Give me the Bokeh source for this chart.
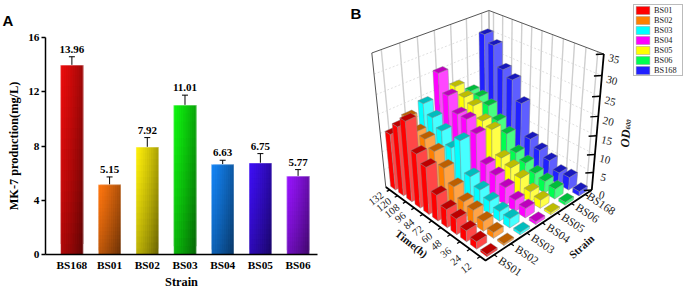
import numpy as np
from bokeh.core.properties import value
from bokeh.embed import file_html
from bokeh.layouts import column, row
from bokeh.models import (ColumnDataSource, FixedTicker, Label, Legend, LegendItem, Range1d,
                          TeeHead, Title, Whisker)
from bokeh.plotting import figure
from bokeh.resources import INLINE

# ---------- Panel A data ----------
strains_a = ["BS168", "BS01", "BS02", "BS03", "BS04", "BS05", "BS06"]
mk7 = [13.96, 5.15, 7.92, 11.01, 6.63, 6.75, 5.77]
mk7_err = [0.62, 0.57, 0.70, 0.74, 0.32, 0.69, 0.49]
bar_colors = [(235, 12, 12), (255, 118, 15), (255, 240, 10), (15, 245, 15),
              (20, 132, 245), (62, 15, 245), (152, 20, 255)]

# ---------- Panel B data ----------
times = [12, 24, 36, 48, 60, 72, 84, 96, 108, 120, 132]
strains_b = ["BS01", "BS02", "BS03", "BS04", "BS05", "BS06", "BS168"]
od_bs01 = [0.6, 2.0, 3.0, 4.3, 5.0, 7.1, 12.8, 14.7, 21.6, 18.8, 15.4]
od_bs02 = [0.5, 1.6, 2.7, 3.9, 4.4, 6.8, 10.2, 13.1, 14.9, 15.4, 17.8]
od_bs03 = [0.7, 2.5, 2.7, 3.7, 5.1, 7.1, 15.2, 11.8, 14.9, 17.1, 19.5]
od_bs04 = [0.8, 2.6, 3.1, 4.9, 6.6, 8.0, 14.8, 17.3, 17.3, 20.9, 25.6]
od_bs05 = [0.6, 2.3, 2.9, 5.0, 6.3, 7.5, 13.9, 14.8, 17.6, 18.6, 20.3]
od_bs06 = [0.8, 2.8, 3.3, 3.9, 5.3, 6.7, 10.6, 12.8, 15.7, 16.9, 17.2]
od_bs168 = [1.3, 3.6, 3.3, 5.2, 6.6, 8.3, 16.9, 22.0, 23.6, 28.9, 30.7]
od_all = [od_bs01, od_bs02, od_bs03, od_bs04, od_bs05, od_bs06, od_bs168]
colors_3d = [(255, 0, 0), (255, 128, 0), (0, 255, 255), (255, 0, 255),
             (255, 255, 0), (0, 255, 80), (32, 32, 255)]
z_ticks = [0, 5, 10, 15, 20, 25, 30, 35]
Z_MAX = 35

SERIF = "Liberation Serif"
SANS = "Liberation Sans"


def hexc(c):
    return "#%02x%02x%02x" % tuple(int(max(0, min(255, round(v)))) for v in c)


# ---------- Panel A ----------
p1 = figure(width=340, height=292, output_backend="svg", toolbar_location=None,
            x_range=Range1d(-0.7, 6.515), y_range=Range1d(0, 16),
            min_border_left=45, min_border_right=23, min_border_top=37, min_border_bottom=38,
            background_fill_color="white", border_fill_color="white")
p1.outline_line_color = None
p1.grid.visible = False

# gradient bars: each cell overlaps the next one, which is painted over it, so no seams show
NX, NY = 12, 18
ql, qr, qb, qt, qc = [], [], [], [], []
for k, (v, c) in enumerate(zip(mk7, bar_colors)):
    for a in range(NX):
        for b in range(NY):
            u = (a + 0.5) / NX
            w = (b + 0.5) / NY
            shade = 1.0 - 0.33 * u ** 1.2 - 0.26 * (1 - w) ** 1.3
            ql.append(k - 0.3 + 0.6 * a / NX)
            qr.append(k - 0.3 + 0.6 * min(a + 2, NX) / NX)
            qb.append(v * b / NY)
            qt.append(v * min(b + 2, NY) / NY)
            qc.append(hexc([x * shade for x in c]))
p1.quad(left=ql, right=qr, bottom=qb, top=qt, fill_color=qc, line_color=None)
xs = list(range(len(mk7)))
p1.quad(left=[i - 0.3 for i in xs], right=[i + 0.3 for i in xs], bottom=[0] * 7, top=mk7,
        fill_color=None, line_color="white", line_alpha=0.45, line_width=1)

src = ColumnDataSource(dict(
    x=xs, base=mk7, upper=[v + e for v, e in zip(mk7, mk7_err)],
    lower=[v - e for v, e in zip(mk7, mk7_err)], txt=["%.2f" % v for v in mk7]))
wh = Whisker(source=src, base="x", upper="upper", lower="lower", line_color="black", line_width=1,
             upper_head=TeeHead(size=6, line_color="black", line_width=1),
             lower_head=TeeHead(size=6, line_color="black", line_width=1))
p1.add_layout(wh)
p1.text(x="x", y="upper", text="txt", source=src, y_offset=-4, text_align="center",
        text_baseline="bottom", text_font=value(SERIF), text_font_style="bold",
        text_font_size="11px", text_color="black")

p1.xaxis.ticker = FixedTicker(ticks=xs)
p1.xaxis.major_label_overrides = {i: s for i, s in enumerate(strains_a)}
p1.yaxis.ticker = FixedTicker(ticks=[0, 4, 8, 12, 16])
for ax in (p1.xaxis, p1.yaxis):
    ax.axis_line_color = "black"
    ax.axis_line_width = 1.5
    ax.major_tick_line_color = "black"
    ax.major_tick_line_width = 1.5
    ax.minor_tick_line_color = None
    ax.major_label_text_font = SERIF
    ax.major_label_text_font_style = "bold"
    ax.major_label_text_font_size = "11.3px"
    ax.major_label_text_color = "black"
    ax.axis_label_text_font = SERIF
    ax.axis_label_text_font_style = "bold"
    ax.axis_label_text_color = "black"
    ax.axis_label_text_font_size = "12.3px"
p1.xaxis.major_tick_out = 0
p1.xaxis.major_tick_in = 0
p1.xaxis.major_label_standoff = 4
p1.xaxis.axis_label_standoff = 1
p1.xaxis.axis_label = "Strain"
p1.yaxis.major_tick_out = 4
p1.yaxis.major_tick_in = 0
p1.yaxis.major_label_standoff = 2
p1.yaxis.axis_label = "MK-7 production(mg/L)"
p1.yaxis.axis_label_standoff = 4
p1.title = Title(text="A", align="left", offset=-43, standoff=18, text_font=SANS,
                 text_font_style="bold", text_font_size="15px", text_color="black")

# ---------- Panel B: a projective camera fitted to the box corners, drawn in page pixels ----------
p2 = figure(width=345, height=292, output_backend="svg", toolbar_location=None,
            x_range=Range1d(340, 685), y_range=Range1d(292, 0), x_axis_location=None,
            y_axis_location=None, min_border=0, background_fill_color="white",
            border_fill_color="white")
p2.outline_line_color = None
p2.grid.visible = False

box = [((0, 0, 0), (485.7, 260)), ((1, 0, 0), (385, 186)), ((0, 1, 0), (591, 190)),
       ((1, 0, 1), (371, 53)), ((0, 1, 1), (603, 53)), ((1, 1, 1), (489, 10))]
A = []
for (X, Y, Z), (u, v) in box:
    A.append([X, Y, Z, 1, 0, 0, 0, 0, -u * X, -u * Y, -u * Z, -u])
    A.append([0, 0, 0, 0, X, Y, Z, 1, -v * X, -v * Y, -v * Z, -v])
P = np.linalg.svd(np.array(A, float))[2][-1].reshape(3, 4)


def proj(t, s, z):
    h = P @ np.array([t, s, z, 1.0])
    return h[0] / h[2], h[1] / h[2]


def line(pts, **kw):
    q = [proj(*a) for a in pts]
    p2.line([a[0] for a in q], [a[1] for a in q], **kw)


nt, ns = len(times), len(strains_b)
grid_v = dict(line_color="#cfcfcf", line_width=1.4)
grid_h = dict(line_color="#d8d8d8", line_width=0.8, line_dash="2 2")
for j in range(ns):
    s = (j + 0.5) / ns
    line([(1, s, 0), (1, s, 1)], **grid_v)
for i in range(nt):
    t = (i + 0.5) / nt
    line([(t, 1, 0), (t, 1, 1)], **grid_v)
for zv in z_ticks[1:-1]:
    z = zv / Z_MAX
    line([(1, 0, z), (1, 1, z), (0, 1, z)], **grid_h)
line([(1, 0, 0), (1, 0, 1), (1, 1, 1), (0, 1, 1)], line_color="#555555", line_width=1)
line([(1, 1, 0), (1, 1, 1)], line_color="#888888", line_width=1)

WT, WS = 0.62, 0.6
legend_items = []
for j in range(ns - 1, -1, -1):
    xs_, ys_, fc = [], [], []
    base = colors_3d[j]
    left_c = hexc(base)
    right_c = hexc([x + (255 - x) * 0.28 for x in base])
    top_c = hexc([x * 0.74 for x in base])
    s0 = (j + 0.5 - WS / 2) / ns
    s1 = (j + 0.5 + WS / 2) / ns
    for i in range(nt - 1, -1, -1):
        t0 = (i + 0.5 - WT / 2) / nt
        t1 = (i + 0.5 + WT / 2) / nt
        z = od_all[j][i] / Z_MAX
        faces = [([(t0, s0, 0), (t1, s0, 0), (t1, s0, z), (t0, s0, z)], left_c),
                 ([(t0, s0, 0), (t0, s1, 0), (t0, s1, z), (t0, s0, z)], right_c),
                 ([(t0, s0, z), (t1, s0, z), (t1, s1, z), (t0, s1, z)], top_c)]
        for pts, col in faces:
            q = [proj(*a) for a in pts]
            xs_.append([a[0] for a in q])
            ys_.append([a[1] for a in q])
            fc.append(col)
    r = p2.patches(xs_, ys_, fill_color=fc, line_color="#8a8a8a", line_width=0.5, line_alpha=0.8)
    legend_items.append(LegendItem(label=strains_b[j], renderers=[r], index=0))

# axes
line([(1, 0, 0), (0, 0, 0), (0, 1, 0)], line_color="black", line_width=1.8)
line([(0, 1, 0), (0, 1, 1)], line_color="black", line_width=1.8)
for i in range(nt):
    t = (i + 0.5) / nt
    line([(t, 0, 0), (t, -0.025, 0)], line_color="black", line_width=1.2)
for j in range(ns):
    s = (j + 0.5) / ns
    line([(0, s, 0), (-0.025, s, 0)], line_color="black", line_width=1.2)
for zv in z_ticks:
    x0, y0 = proj(0, 1, zv / Z_MAX)
    p2.segment([x0 - 8], [y0 + 0.5], [x0], [y0], line_color="black", line_width=1.4)

tfont = dict(text_font=value(SERIF), text_color="#222222", text_align="center", text_baseline="middle")
qt_ = [proj((i + 0.5) / nt, -0.14, 0) for i in range(nt)]
p2.text([a[0] + 3 for a in qt_], [a[1] for a in qt_], text=[str(v) for v in times],
        angle=38, angle_units="deg", text_font_size="10.5px", **tfont)
qs_ = [proj(-0.135, (j + 0.5) / ns, 0) for j in range(ns)]
p2.text([a[0] for a in qs_], [a[1] for a in qs_], text=strains_b,
        angle=-34, angle_units="deg", text_font_size="11.5px", **tfont)
qz_ = [proj(0, 1, v / Z_MAX) for v in z_ticks]
p2.text([a[0] + 10 for a in qz_], [a[1] + 5 for a in qz_], text=[str(v) for v in z_ticks],
        angle=-14, angle_units="deg", text_font_size="11px", **tfont)

bold = dict(text_font=value(SERIF), text_font_style="bold", text_color="#111111",
            text_align="center", text_baseline="middle")
p2.text([411], [243], text=["Time(h)"], angle=-38, angle_units="deg", text_font_size="11px", **bold)
p2.text([581], [246], text=["Strain"], angle=42, angle_units="deg", text_font_size="11px", **bold)
ital = dict(bold)
ital["text_font_style"] = "bold italic"
p2.text([625], [138], text=["OD"], angle=85, angle_units="deg", text_font_size="12.5px", **ital)
p2.text([628], [124], text=["600"], angle=85, angle_units="deg", text_font_size="6.5px", **ital)

p2.add_layout(Label(x=10, y=271, x_units="screen", y_units="screen", text="B", text_font=SANS,
                    text_font_style="bold", text_font_size="15px", text_color="black"))

leg = Legend(items=legend_items[::-1], location=(293, 216), orientation="vertical",
             glyph_width=17, glyph_height=10, label_height=10, label_width=28,
             label_standoff=3, spacing=0, padding=0, margin=0, border_line_color="#777777",
             border_line_width=1.5, background_fill_color="white", background_fill_alpha=1,
             label_text_font=SERIF, label_text_font_size="8.3px", label_text_color="#222222",
             label_text_baseline="middle")
p2.add_layout(leg, "center")

page = row(column(p1), column(p2), spacing=0)
open("out.html", "w").write(file_html(page, INLINE))
